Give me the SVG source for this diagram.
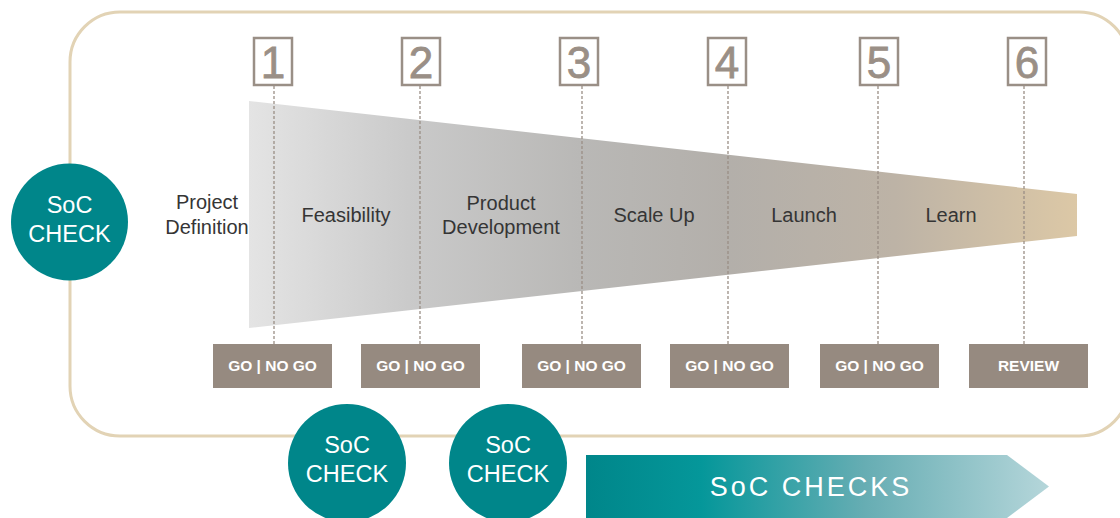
<svg xmlns="http://www.w3.org/2000/svg" width="1120" height="518" viewBox="0 0 1120 518">
<defs>
<linearGradient id="funnelGrad" x1="249" y1="0" x2="1077" y2="0" gradientUnits="userSpaceOnUse">
<stop offset="0" stop-color="#e4e4e4"/>
<stop offset="0.2" stop-color="#c9c9c9"/>
<stop offset="0.4" stop-color="#b9b8b6"/>
<stop offset="0.58" stop-color="#b3afaa"/>
<stop offset="0.78" stop-color="#bdb3a6"/>
<stop offset="1" stop-color="#dcc8a6"/>
</linearGradient>
<linearGradient id="arrowGrad" x1="586" y1="0" x2="1049" y2="0" gradientUnits="userSpaceOnUse">
<stop offset="0" stop-color="#00868a"/>
<stop offset="0.25" stop-color="#05979a"/>
<stop offset="0.6" stop-color="#66adb3"/>
<stop offset="1" stop-color="#b5d6da"/>
</linearGradient>
<style>
.frame{fill:none;stroke:#e2d3b5;stroke-width:3}
.numbox{fill:#fff;stroke:#9a8f86;stroke-width:2.5}
.num{font-family:"Liberation Sans",Arial,sans-serif;font-size:44px;fill:#9a8f86;stroke:#9a8f86;stroke-width:0.8;text-anchor:middle}
.dash{stroke:#9a8f86;stroke-width:1.3;stroke-dasharray:3 2;fill:none}
.gobox{fill:#968a80}
.gotext{font-family:"Liberation Sans",Arial,sans-serif;font-size:15.5px;font-weight:bold;fill:#fff;text-anchor:middle}
.stage{font-family:"Liberation Sans",Arial,sans-serif;font-size:20px;fill:#353535;text-anchor:middle}
.circle{fill:#00868a}
.ctext{font-family:"Liberation Sans",Arial,sans-serif;font-size:23.5px;fill:#ffffff;text-anchor:middle}
.atext{font-family:"Liberation Sans",Arial,sans-serif;font-size:27px;fill:#ffffff;text-anchor:middle;letter-spacing:3px}
</style>
</defs>
<rect class="frame" x="70" y="12" width="1059" height="424" rx="50" ry="50"/>
<g id="funnel">
<polygon points="249,101 1077,194 1077,236 249,328" fill="url(#funnelGrad)"/>
</g>
<g id="stages">
<text class="stage" x="207" y="209">Project</text>
<text class="stage" x="207" y="234">Definition</text>
<text class="stage" x="346" y="222">Feasibility</text>
<text class="stage" x="501" y="210">Product</text>
<text class="stage" x="501" y="234">Development</text>
<text class="stage" x="654" y="222">Scale Up</text>
<text class="stage" x="804" y="222">Launch</text>
<text class="stage" x="951" y="222">Learn</text>
</g>
<g id="connectors">
<line class="dash" x1="274" y1="86" x2="274" y2="344"/>
<line class="dash" x1="420" y1="86" x2="420" y2="344"/>
<line class="dash" x1="582" y1="86" x2="582" y2="344"/>
<line class="dash" x1="728" y1="86" x2="728" y2="344"/>
<line class="dash" x1="878" y1="86" x2="878" y2="344"/>
<line class="dash" x1="1024" y1="86" x2="1024" y2="344"/>
</g>
<g id="gate1"><rect class="numbox" x="254" y="38" width="38" height="47"/><text class="num" x="273" y="78">1</text></g>
<g id="gate2"><rect class="numbox" x="402" y="38" width="38" height="47"/><text class="num" x="421" y="78">2</text></g>
<g id="gate3"><rect class="numbox" x="560" y="38" width="38" height="47"/><text class="num" x="579" y="78">3</text></g>
<g id="gate4"><rect class="numbox" x="708" y="38" width="38" height="47"/><text class="num" x="727" y="78">4</text></g>
<g id="gate5"><rect class="numbox" x="860" y="38" width="38" height="47"/><text class="num" x="879" y="78">5</text></g>
<g id="gate6"><rect class="numbox" x="1008" y="38" width="38" height="47"/><text class="num" x="1027" y="78">6</text></g>
<g id="go1"><rect class="gobox" x="213" y="344" width="119" height="44"/><text class="gotext" x="272.5" y="371">GO | NO GO</text></g>
<g id="go2"><rect class="gobox" x="361" y="344" width="119" height="44"/><text class="gotext" x="420.5" y="371">GO | NO GO</text></g>
<g id="go3"><rect class="gobox" x="522" y="344" width="119" height="44"/><text class="gotext" x="581.5" y="371">GO | NO GO</text></g>
<g id="go4"><rect class="gobox" x="670" y="344" width="119" height="44"/><text class="gotext" x="729.5" y="371">GO | NO GO</text></g>
<g id="go5"><rect class="gobox" x="820" y="344" width="119" height="44"/><text class="gotext" x="879.5" y="371">GO | NO GO</text></g>
<g id="review"><rect class="gobox" x="969" y="344" width="119" height="44"/><text class="gotext" x="1028.5" y="371">REVIEW</text></g>
<g id="check0"><circle class="circle" cx="69.5" cy="222" r="58.5"/><text class="ctext" x="69.5" y="213">SoC</text><text class="ctext" x="69.5" y="242">CHECK</text></g>
<g id="check1"><circle class="circle" cx="347" cy="463" r="59"/><text class="ctext" x="347" y="453">SoC</text><text class="ctext" x="347" y="482">CHECK</text></g>
<g id="check2"><circle class="circle" cx="508" cy="463" r="59"/><text class="ctext" x="508" y="453">SoC</text><text class="ctext" x="508" y="482">CHECK</text></g>
<g id="checks-arrow"><polygon points="586,455 1007,455 1049,486.5 1007,518 586,518" fill="url(#arrowGrad)"/><text class="atext" x="811" y="496">SoC CHECKS</text></g>
</svg>
